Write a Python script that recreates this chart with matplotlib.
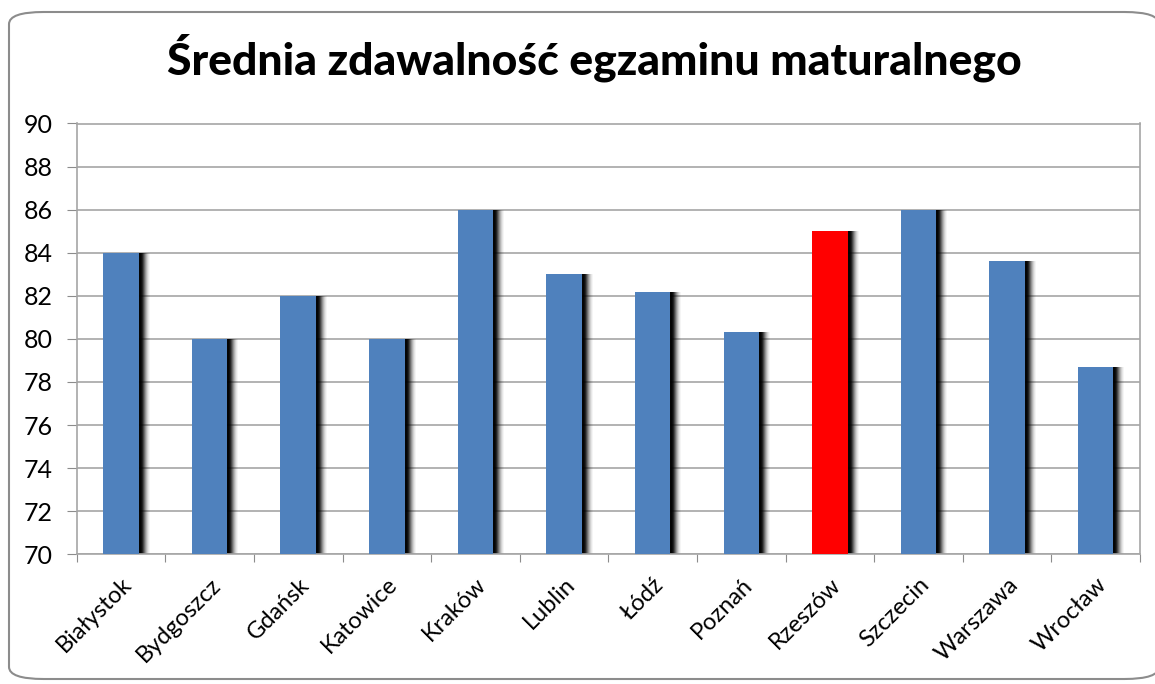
import numpy as np
import matplotlib
matplotlib.use("Agg")
import matplotlib.pyplot as plt
import matplotlib.transforms as mtransforms
from matplotlib.patches import FancyBboxPatch

plt.rcParams["font.family"] = ["Lato", "DejaVu Sans"]

# dane
cities = ["Białystok", "Bydgoszcz", "Gdańsk", "Katowice", "Kraków", "Lublin",
          "Łódź", "Poznań", "Rzeszów", "Szczecin", "Warszawa", "Wrocław"]
pass_rate = [84.0, 80.0, 82.0, 80.0, 86.0, 83.0, 82.2, 80.3, 85.0, 86.0, 83.6, 78.7]
highlight = "Rzeszów"

blue = "#4F81BD"
red = "#FF0000"
colors = [red if c == highlight else blue for c in cities]

fig = plt.figure(figsize=(11.55, 6.84), dpi=100)
ax = fig.add_axes([76.7 / 1155, 1 - 554.3 / 684, (1140 - 76.7) / 1155, (554.3 - 123.5) / 684])

# ramka wykresu
frame = FancyBboxPatch((9 / 1155, 5 / 684), 1150 / 1155, 667 / 684,
                       boxstyle="round,pad=0,rounding_size=0.03",
                       transform=fig.transFigure, facecolor="white",
                       edgecolor="#8C8C8C", linewidth=1.5, zorder=-10,
                       mutation_aspect=684 / 1155)
fig.patches.append(frame)

x = np.arange(len(cities))
width = 0.4
heights = np.array(pass_rate) - 70

# cień słupków (rozmyty, przesunięty w prawo)
shadow = [(11, 0.04), (10, 0.06), (9, 0.09), (8, 0.13), (7, 0.18),
          (6, 0.25), (5, 0.35), (4, 0.5), (3, 0.6), (2, 0.7)]
for dx, a in shadow:
    tr = mtransforms.offset_copy(ax.transData, fig=fig, x=dx * 0.72, y=0, units="points")
    ax.bar(x, heights, width, bottom=70, color="black", alpha=a,
           transform=tr, zorder=2, linewidth=0)

ax.bar(x, heights, width, bottom=70, color=colors, zorder=3, linewidth=0)

ax.set_xlim(-0.5, len(cities) - 0.5)
ax.set_ylim(70, 90)
ax.set_yticks(np.arange(70, 91, 2))
ax.yaxis.grid(True, color="#A6A6A6", linewidth=1.2, zorder=0)
ax.set_axisbelow(True)

ax.set_xticks(np.arange(-0.5, len(cities), 1))
ax.set_xticklabels([])
ax.set_xticks(x, minor=True)
ax.set_xticklabels(cities, minor=True, rotation=45, ha="right", va="top",
                   rotation_mode="anchor")
ax.tick_params(axis="x", which="minor", length=0, pad=14, labelsize=17)
ax.tick_params(axis="x", which="major", length=6, color="#8C8C8C", direction="out")
ax.tick_params(axis="y", length=7, color="#8C8C8C", labelsize=18, pad=10)

for side in ["left", "bottom", "right", "top"]:
    ax.spines[side].set_color("#A6A6A6")
    ax.spines[side].set_linewidth(1.2)

fig.text(0.515, 0.915, "Średnia zdawalność egzaminu maturalnego",
         ha="center", va="center", fontsize=32, fontweight="black")

fig.savefig("out.png", dpi=100)
